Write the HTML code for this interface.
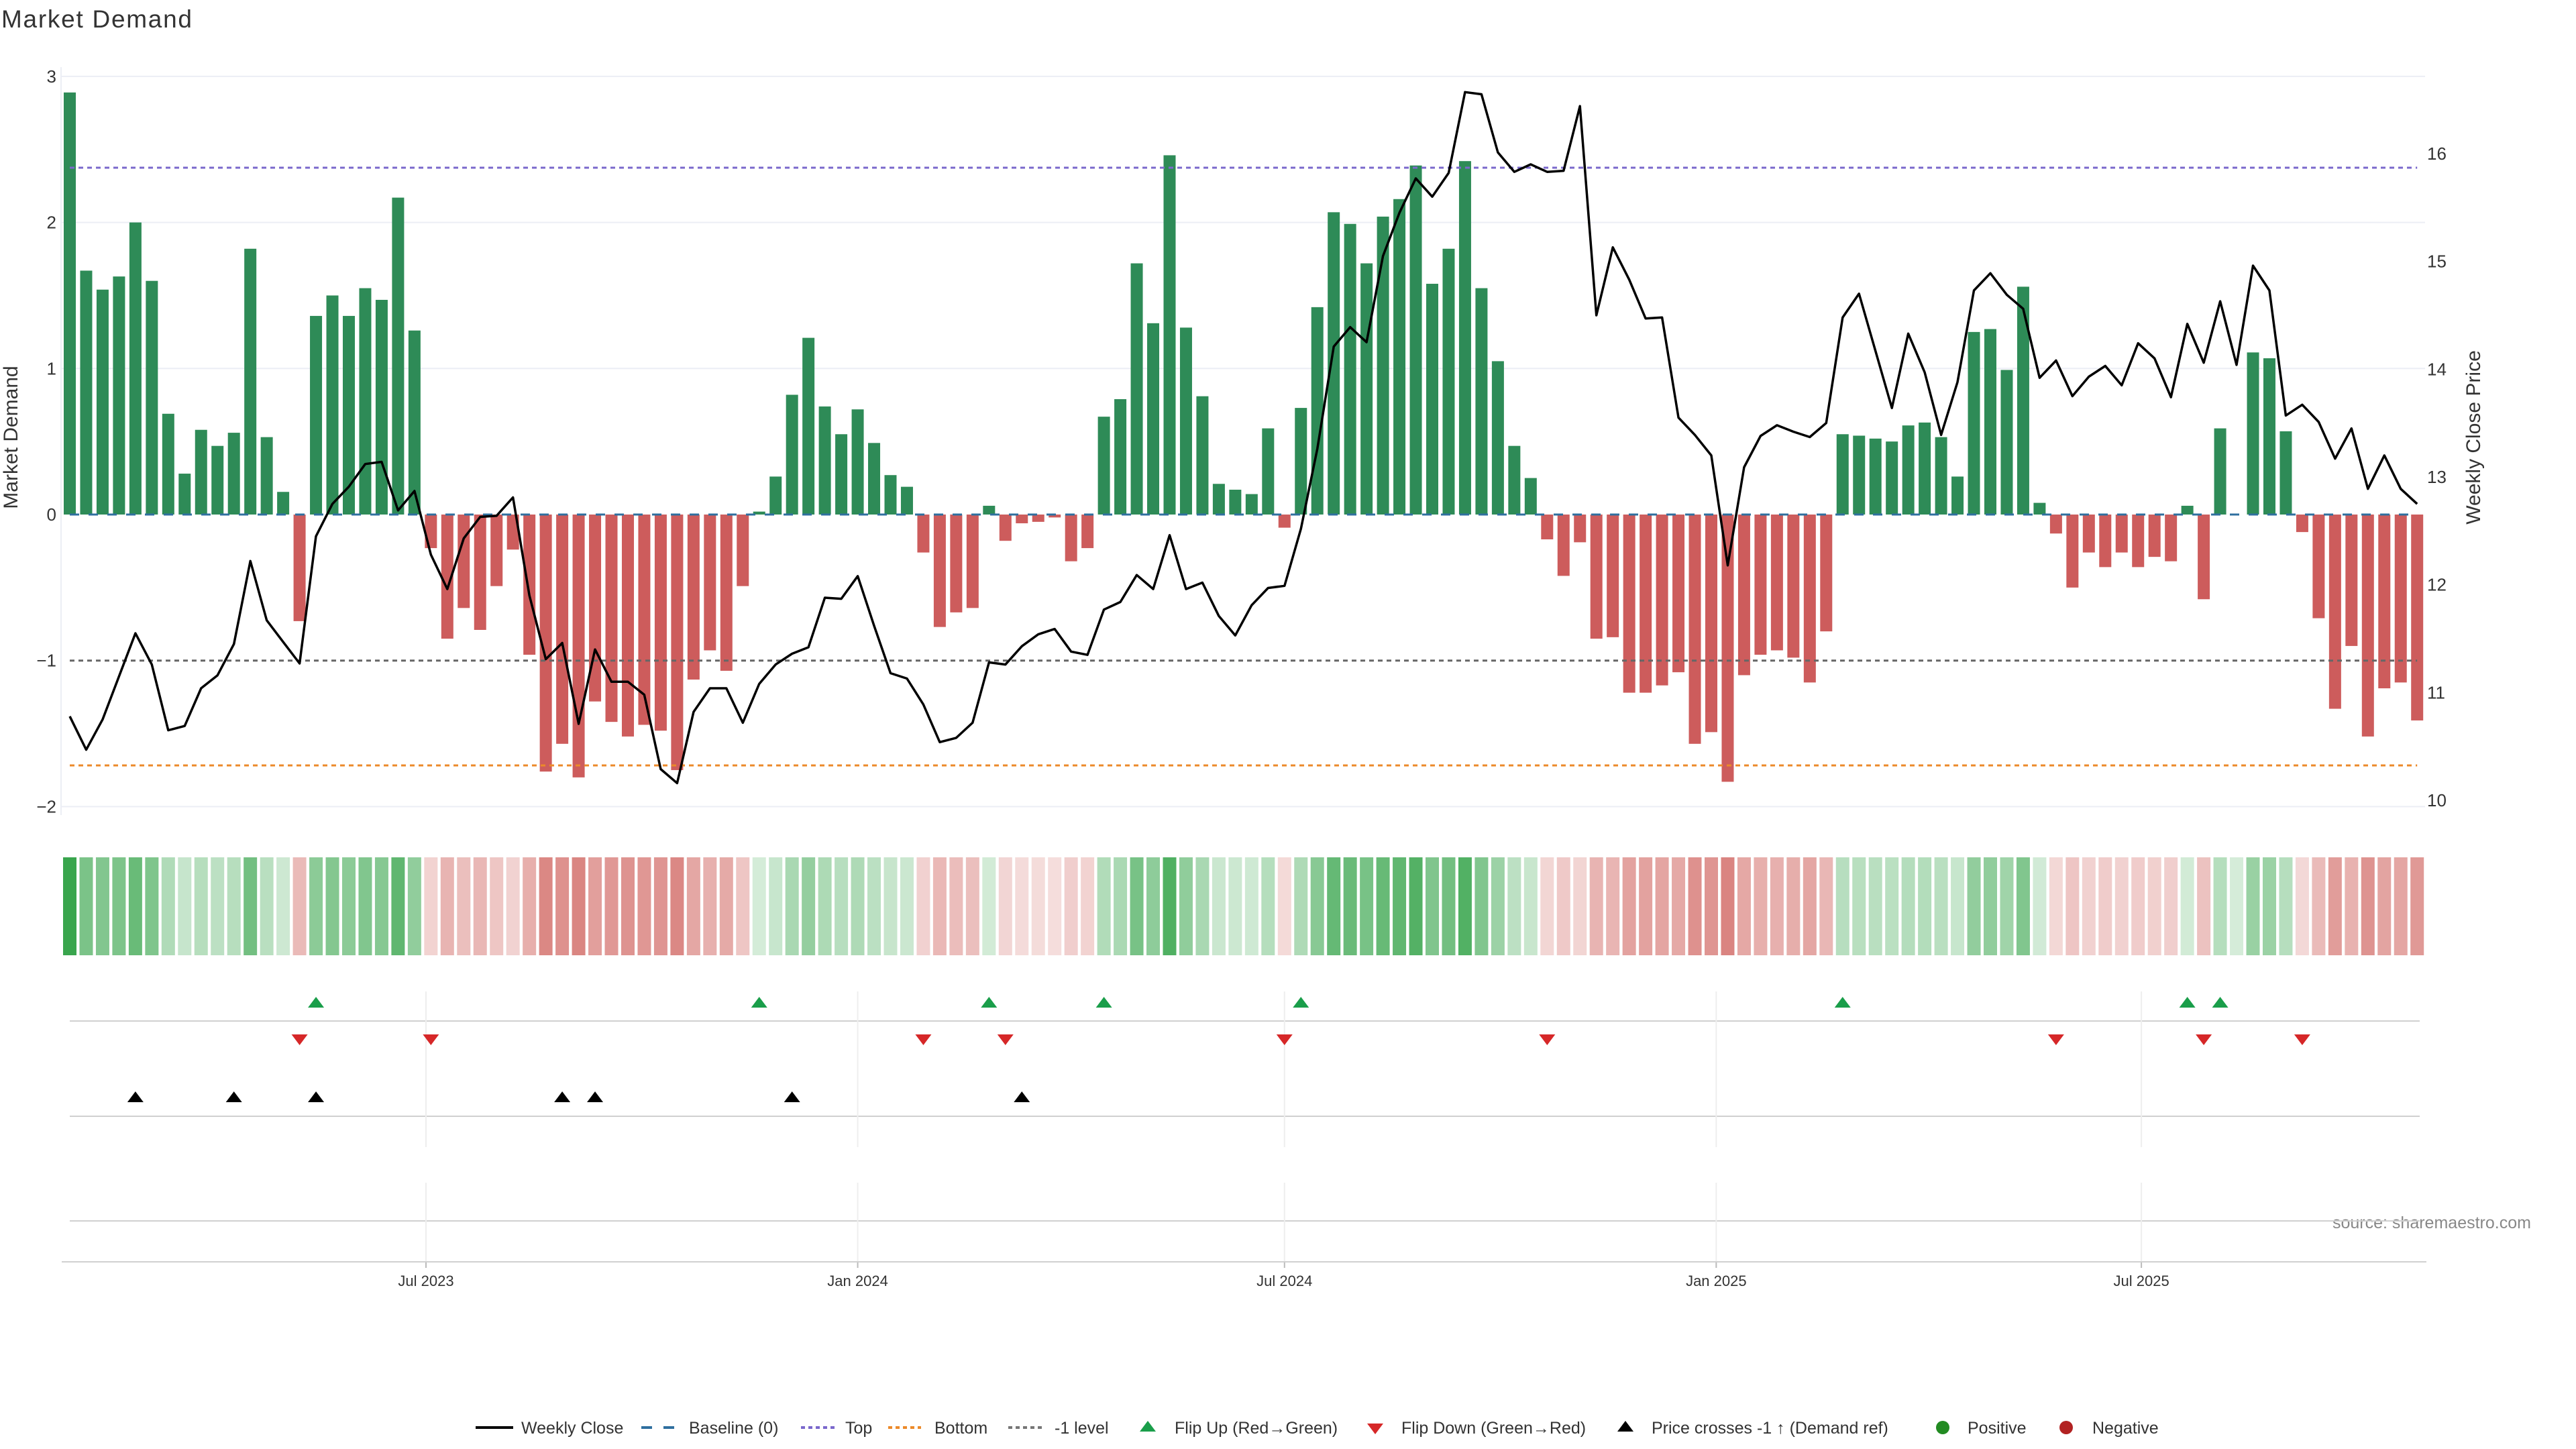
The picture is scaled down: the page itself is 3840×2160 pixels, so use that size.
<!DOCTYPE html>
<html><head><meta charset="utf-8"><title>Market Demand</title>
<style>
html,body{margin:0;padding:0;background:#fff;}
svg{display:block;font-family:"Liberation Sans","DejaVu Sans",sans-serif;}
</style></head>
<body>
<svg id="chart" xmlns="http://www.w3.org/2000/svg" width="3840" height="2160" viewBox="0 0 3840 2160">
<rect width="3840" height="2160" fill="#fff"/>
<text x="2" y="41" font-size="37" fill="#333" textLength="284">Market Demand</text>
<text transform="translate(26,652) rotate(-90)" text-anchor="middle" font-size="30" fill="#333">Market Demand</text>
<text transform="translate(3697,652) rotate(-90)" text-anchor="middle" font-size="30" fill="#333">Weekly Close Price</text>
<text x="3477" y="1831" font-size="25" fill="#888">source: sharemaestro.com</text>
<g id="grid"></g><g id="bars"></g><g id="levels"></g><g id="price"></g><g id="heat"></g><g id="markers"></g><g id="axes"></g><g id="legend"></g>
</svg>
<script>
const demand = [2.89,1.67,1.54,1.63,2.0,1.60,0.69,0.28,0.58,0.47,0.56,1.82,0.53,0.155,-0.73,1.36,1.50,1.36,1.55,1.47,2.17,1.26,-0.23,-0.85,-0.64,-0.79,-0.49,-0.24,-0.96,-1.76,-1.57,-1.80,-1.28,-1.42,-1.52,-1.44,-1.48,-1.75,-1.13,-0.93,-1.07,-0.49,0.02,0.26,0.82,1.21,0.74,0.55,0.72,0.49,0.27,0.19,-0.26,-0.77,-0.67,-0.64,0.06,-0.18,-0.06,-0.05,-0.02,-0.32,-0.23,0.67,0.79,1.72,1.31,2.46,1.28,0.81,0.21,0.17,0.14,0.59,-0.09,0.73,1.42,2.07,1.99,1.72,2.04,2.16,2.39,1.58,1.82,2.42,1.55,1.05,0.47,0.25,-0.17,-0.42,-0.19,-0.85,-0.84,-1.22,-1.22,-1.17,-1.08,-1.57,-1.49,-1.83,-1.10,-0.96,-0.93,-0.98,-1.15,-0.80,0.55,0.54,0.52,0.50,0.61,0.63,0.53,0.26,1.25,1.27,0.99,1.56,0.08,-0.13,-0.50,-0.26,-0.36,-0.26,-0.36,-0.29,-0.32,0.06,-0.58,0.59,0.0,1.11,1.07,0.57,-0.12,-0.71,-1.33,-0.90,-1.52,-1.19,-1.15,-1.41];
const price = [10.78,10.47,10.75,11.15,11.55,11.26,10.65,10.69,11.04,11.16,11.45,12.22,11.67,11.47,11.27,12.45,12.75,12.91,13.12,13.14,12.69,12.87,12.28,11.96,12.43,12.63,12.64,12.81,11.90,11.31,11.46,10.71,11.40,11.10,11.10,10.98,10.29,10.16,10.82,11.04,11.04,10.72,11.08,11.26,11.36,11.42,11.88,11.87,12.08,11.62,11.18,11.13,10.89,10.54,10.58,10.72,11.28,11.26,11.43,11.54,11.59,11.38,11.35,11.77,11.84,12.09,11.96,12.46,11.96,12.02,11.71,11.53,11.81,11.97,11.99,12.52,13.26,14.21,14.39,14.25,15.05,15.45,15.77,15.60,15.82,16.57,16.55,16.01,15.83,15.90,15.83,15.84,16.44,14.50,15.13,14.83,14.47,14.48,13.55,13.39,13.20,12.18,13.09,13.38,13.48,13.42,13.37,13.50,14.48,14.70,14.17,13.64,14.33,13.97,13.39,13.88,14.73,14.89,14.69,14.56,13.92,14.08,13.75,13.93,14.03,13.85,14.24,14.10,13.74,14.42,14.06,14.63,14.04,14.96,14.73,13.57,13.67,13.51,13.17,13.45,12.89,13.20,12.89,12.75];
const flipUp = [15,42,56,63,75,108,129,131];
const flipDown = [14,22,52,57,74,90,121,130,136];
const priceCross = [4,10,15,30,32,44,58];
const demandTicks = [3,2,1,0,-1,-2];
const demandTickLabels = ["3","2","1","0","\u22121","\u22122"];
const priceTicks = [10,11,12,13,14,15,16];
const dateTickPos = [21.7,48.0,74.0,100.3,126.2];
const dateTickLabels = ["Jul 2023","Jan 2024","Jul 2024","Jan 2025","Jul 2025"];
const levelTop = 2.375, levelBottom = -1.718, levelMinus1 = -1;

const NS = "http://www.w3.org/2000/svg";
const X0 = 104, DX = 24.47, Y0 = 767, DY = 217.7, P13 = 711, DP = 160.7, XR = 3615;
function xS(i){ return X0 + i*DX; }
function yD(v){ return Y0 - v*DY; }
function yP(p){ return P13 - (p-13)*DP; }
function mk(tag, attrs, parent){
  const e = document.createElementNS(NS, tag);
  for (const k in attrs) e.setAttribute(k, attrs[k]);
  document.getElementById(parent).appendChild(e);
  return e;
}
function mix(c, a){ return "rgb(" + c.map(v => Math.round(255 + (v-255)*a)).join(",") + ")"; }

demandTicks.forEach((t, k) => {
  if (t !== 0 && t !== -1) {
    const g = mk("line", {x1:91, x2:XR, y1:yD(t), y2:yD(t), stroke:"#eceef5", "stroke-width":2}, "grid");
    
    
  }
  const tl = mk("text", {x:84, y:yD(t)+9, "text-anchor":"end", "font-size":26, fill:"#333"}, "axes");
  tl.textContent = demandTickLabels[k];
  
  
});
priceTicks.forEach(p => {
  const tl = mk("text", {x:3618, y:yP(p)+9, "font-size":26, fill:"#333"}, "axes");
  tl.textContent = String(p);
  
  
});
const spine = mk("line", {x1:91, x2:91, y1:100, y2:1215, stroke:"#eceef5", "stroke-width":2}, "grid");



demand.forEach((v, i) => {
  if (v === 0) return;
  const y = Math.min(yD(v), Y0), h = Math.abs(yD(v) - Y0);
  const b = mk("rect", {x:xS(i)-9, y:y, width:18, height:h, fill: v > 0 ? "#2e8b57" : "#cd5c5c"}, "bars");
  
  
});

function level(v, color, dash, name){
  const l = mk("line", {x1:X0, x2:xS(demand.length-1), y1:yD(v), y2:yD(v), stroke:color, "stroke-width":3, "stroke-dasharray":dash}, "levels");
  
  
}
level(0, "#2f6f9f", "14 14", "baseline-zero");
level(levelTop, "#7a68cc", "7 6", "top-level");
level(levelBottom, "#ec8a2a", "7 6", "bottom-level");
level(levelMinus1, "#666", "7 6", "minus-one-level");

const pl = mk("polyline", {points: price.map((p,i) => xS(i).toFixed(1)+","+yP(p).toFixed(1)).join(" "), fill:"none", stroke:"#000", "stroke-width":3.5, "stroke-linejoin":"round"}, "price");



demand.forEach((v, i) => {
  let col;
  if (v >= 0) { const t = Math.min(1, v/2.9); col = mix([46,160,67], 0.2 + 0.75*t); }
  else { const t = Math.min(1, -v/1.85); col = mix([205,90,85], 0.2 + 0.55*t); }
  const c = mk("rect", {x:xS(i)-10, y:1278, width:20, height:146, fill:col}, "heat");
  
  
});

[1522, 1664, 1820].forEach(y => {
  const l = mk("line", {x1:X0, x2:3607, y1:y, y2:y, stroke:"#d0d0d0", "stroke-width":2}, "grid");
  
  
});
dateTickPos.forEach((t, k) => {
  const x = xS(t);
  const g1 = mk("line", {x1:x, x2:x, y1:1478, y2:1710, stroke:"#eeeeee", "stroke-width":2}, "grid");
  
  
  const g2 = mk("line", {x1:x, x2:x, y1:1763, y2:1881, stroke:"#eeeeee", "stroke-width":2}, "grid");
  
  
  const tk = mk("line", {x1:x, x2:x, y1:1881, y2:1890, stroke:"#bbb", "stroke-width":2}, "axes");
  
  
  const tl = mk("text", {x:x, y:1917, "text-anchor":"middle", "font-size":22, fill:"#333"}, "axes");
  tl.textContent = dateTickLabels[k];
  
  
});
const xa = mk("line", {x1:92, x2:3617, y1:1881, y2:1881, stroke:"#d0d0d0", "stroke-width":2}, "axes");



function tri(x, y, up, color, parent, name){
  const pts = up ? [[x-12,y+8],[x+12,y+8],[x,y-8]] : [[x-12,y-8],[x+12,y-8],[x,y+8]];
  const t = mk("polygon", {points: pts.map(p => p.join(",")).join(" "), fill:color}, parent);
  
  
}
flipUp.forEach(i => tri(xS(i), 1494, true, "#1a9e4a", "markers", "flip-up-marker"));
flipDown.forEach(i => tri(xS(i), 1550, false, "#d62728", "markers", "flip-down-marker"));
priceCross.forEach(i => tri(xS(i), 1635, true, "#000", "markers", "price-cross-marker"));

const LY = 2128;
function ltext(x, s, name){
  const t = mk("text", {x:x, y:LY+9, "font-size":25, fill:"#333"}, "legend");
  t.textContent = s;
  
  
}
function lline(x1, x2, color, dash, w, name){
  const l = mk("line", {x1:x1, x2:x2, y1:LY, y2:LY, stroke:color, "stroke-width":w, "stroke-dasharray":dash}, "legend");
  
  
}
lline(709, 765, "#000", "none", 4, "legend-weekly-close-swatch"); ltext(777, "Weekly Close", "legend-weekly-close");
lline(956, 1005, "#2f6f9f", "16 17", 4, "legend-baseline-swatch"); ltext(1027, "Baseline (0)", "legend-baseline");
lline(1194, 1246, "#7a68cc", "6 5", 4, "legend-top-swatch"); ltext(1260, "Top", "legend-top");
lline(1324, 1373, "#ec8a2a", "6 5", 4, "legend-bottom-swatch"); ltext(1393, "Bottom", "legend-bottom");
lline(1503, 1555, "#777", "6 5", 4, "legend-minus1-swatch"); ltext(1572, "-1 level", "legend-minus1");
tri(1711, LY-2, true, "#1a9e4a", "legend", "legend-flip-up-swatch"); ltext(1751, "Flip Up (Red\u2192Green)", "legend-flip-up");
tri(2050, LY+2, false, "#d62728", "legend", "legend-flip-down-swatch"); ltext(2089, "Flip Down (Green\u2192Red)", "legend-flip-down");
tri(2423, LY-2, true, "#000", "legend", "legend-price-cross-swatch"); ltext(2462, "Price crosses -1 \u2191 (Demand ref)", "legend-price-cross");
const d1 = mk("circle", {cx:2896, cy:LY, r:10, fill:"#228b22"}, "legend");


ltext(2933, "Positive", "legend-positive");
const d2 = mk("circle", {cx:3080, cy:LY, r:10, fill:"#b22222"}, "legend");


ltext(3119, "Negative", "legend-negative");
</script>
</body></html>
